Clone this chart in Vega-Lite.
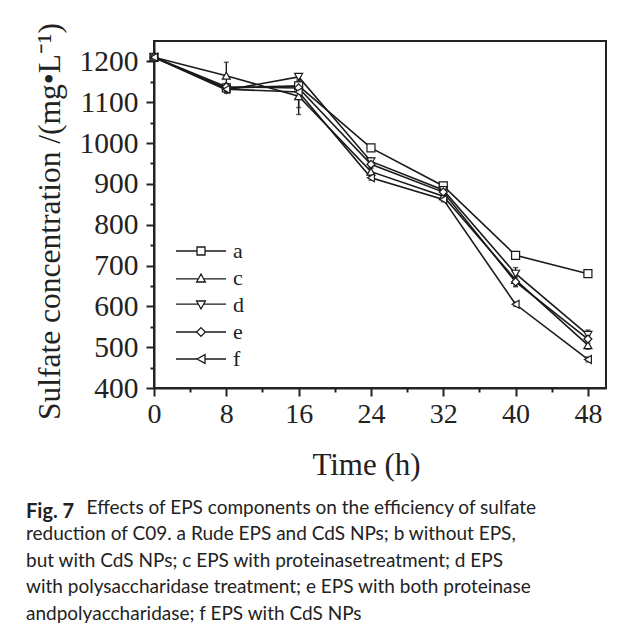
{
  "$schema": "https://vega.github.io/schema/vega-lite/v6.json",
  "width": 452,
  "height": 347,
  "autosize": {"type": "none"},
  "padding": {"left": 154, "top": 41, "right": 23, "bottom": 246},
  "background": "white",
  "title": {
    "text": "Fig. 7",
    "subtitle": [
      "\u2060\u2003\u2003\u2003\u2003\u2009\u200aEffects of EPS components on the efficiency of sulfate",
      "reduction of C09. a Rude EPS and CdS NPs; b without EPS,",
      "but with CdS NPs; c EPS with proteinasetreatment; d EPS",
      "with polysaccharidase treatment; e EPS with both proteinase",
      "andpolyaccharidase; f EPS with CdS NPs"
    ],
    "orient": "bottom",
    "anchor": "start",
    "frame": "group",
    "dx": -128,
    "offset": 22,
    "font": "Lato",
    "fontSize": 20,
    "fontWeight": "bold",
    "color": "#222",
    "subtitleFont": "Lato",
    "subtitleFontSize": 19,
    "subtitleColor": "#222",
    "subtitleLineHeight": 26.4,
    "subtitlePadding": -23
  },
  "datasets": {
    "sulfate": [
      {"series": "a", "t": 0, "v": 1210, "err": 5},
      {"series": "a", "t": 8, "v": 1135, "err": 8},
      {"series": "a", "t": 16, "v": 1140, "err": 10},
      {"series": "a", "t": 24, "v": 988, "err": 8},
      {"series": "a", "t": 32, "v": 895, "err": 8},
      {"series": "a", "t": 40, "v": 725, "err": 6},
      {"series": "a", "t": 48, "v": 680, "err": 6},
      {"series": "c", "t": 0, "v": 1210, "err": 5},
      {"series": "c", "t": 8, "v": 1165, "err": 33},
      {"series": "c", "t": 16, "v": 1115, "err": 45},
      {"series": "c", "t": 24, "v": 930, "err": 8},
      {"series": "c", "t": 32, "v": 870, "err": 8},
      {"series": "c", "t": 40, "v": 665, "err": 15},
      {"series": "c", "t": 48, "v": 505, "err": 10},
      {"series": "d", "t": 0, "v": 1210, "err": 5},
      {"series": "d", "t": 8, "v": 1130, "err": 8},
      {"series": "d", "t": 16, "v": 1162, "err": 8},
      {"series": "d", "t": 24, "v": 955, "err": 8},
      {"series": "d", "t": 32, "v": 885, "err": 10},
      {"series": "d", "t": 40, "v": 680, "err": 15},
      {"series": "d", "t": 48, "v": 530, "err": 12},
      {"series": "e", "t": 0, "v": 1210, "err": 5},
      {"series": "e", "t": 8, "v": 1138, "err": 8},
      {"series": "e", "t": 16, "v": 1135, "err": 10},
      {"series": "e", "t": 24, "v": 948, "err": 8},
      {"series": "e", "t": 32, "v": 880, "err": 8},
      {"series": "e", "t": 40, "v": 660, "err": 12},
      {"series": "e", "t": 48, "v": 520, "err": 10},
      {"series": "f", "t": 0, "v": 1210, "err": 5},
      {"series": "f", "t": 8, "v": 1132, "err": 8},
      {"series": "f", "t": 16, "v": 1125, "err": 38},
      {"series": "f", "t": 24, "v": 915, "err": 6},
      {"series": "f", "t": 32, "v": 862, "err": 6},
      {"series": "f", "t": 40, "v": 605, "err": 5},
      {"series": "f", "t": 48, "v": 470, "err": 6}
    ]
  },
  "data": {"name": "sulfate"},
  "layer": [
    {
      "mark": {"type": "line", "color": "#1a1a1a", "strokeWidth": 1.6},
      "encoding": {
        "x": {
          "field": "t", "type": "quantitative",
          "scale": {"domain": [0, 50], "nice": false},
          "axis": {
            "orient": "bottom",
            "values": [0, 8, 16, 24, 32, 40, 48],
            "tickSize": 8, "tickWidth": 2, "tickColor": "#222",
            "domainColor": "#222", "domainWidth": 2,
            "labelFont": "Liberation Serif", "labelFontSize": 28, "labelColor": "#222",
            "labelPadding": 4, "labelFlush": false, "labelOverlap": false,
            "grid": false,
            "title": "Time (h)",
            "titleFont": "Liberation Serif", "titleFontSize": 31,
            "titleFontWeight": "normal", "titleColor": "#222",
            "titlePadding": 22, "titleX": 212
          }
        },
        "y": {
          "field": "v", "type": "quantitative",
          "scale": {"domain": [400, 1250], "nice": false, "zero": false},
          "axis": {
            "orient": "left",
            "values": [400, 500, 600, 700, 800, 900, 1000, 1100, 1200],
            "format": "d",
            "tickSize": 8, "tickWidth": 2, "tickColor": "#222",
            "domainColor": "#222", "domainWidth": 2,
            "labelFont": "Liberation Serif", "labelFontSize": 29.5, "labelColor": "#222",
            "labelPadding": 8, "labelFlush": false, "labelOverlap": false,
            "grid": false,
            "title": "Sulfate concentration /(mg\u2022L\u207b\u00b9)",
            "titleFont": "Liberation Serif", "titleFontSize": 31.5,
            "titleFontWeight": "normal", "titleColor": "#222",
            "titlePadding": 13, "titleY": 180
          }
        },
        "detail": {"field": "series"}
      }
    },
    {
      "mark": {"type": "errorbar", "ticks": true, "color": "#1a1a1a", "thickness": 1.4},
      "encoding": {
        "x": {"field": "t", "type": "quantitative", "axis": null},
        "y": {"field": "v", "type": "quantitative", "axis": null},
        "yError": {"field": "err"}
      }
    },
    {
      "mark": {"type": "point", "filled": true, "fill": "white", "stroke": "#1a1a1a", "strokeWidth": 1.2, "size": 64, "opacity": 1},
      "encoding": {
        "x": {
          "field": "t", "type": "quantitative",
          "axis": {
            "orient": "bottom", "values": [4, 12, 20, 28, 36, 44],
            "tickSize": 4, "tickWidth": 2, "tickColor": "#222",
            "labels": false, "domain": false, "grid": false, "title": null
          }
        },
        "y": {
          "field": "v", "type": "quantitative",
          "axis": {
            "orient": "left", "values": [450, 550, 650, 750, 850, 950, 1050, 1150],
            "tickSize": 4, "tickWidth": 2, "tickColor": "#222",
            "labels": false, "domain": false, "grid": false, "title": null
          }
        },
        "shape": {
          "field": "series", "type": "nominal",
          "scale": {
            "domain": ["a", "c", "d", "e", "f"],
            "range": ["square", "triangle-up", "triangle-down", "diamond", "triangle-left"]
          },
          "legend": null
        }
      }
    },
    {
      "mark": {"type": "point", "filled": false, "color": "#1a1a1a", "strokeWidth": 1.3, "opacity": 0, "size": 64},
      "encoding": {
        "x": {"field": "t", "type": "quantitative", "axis": null},
        "y": {"field": "v", "type": "quantitative", "axis": null},
        "shape": {
          "field": "series", "type": "nominal",
          "scale": {
            "domain": ["a", "c", "d", "e", "f"],
            "range": [
              "M-1.75,0H3.5M5.5,0H10.75M3.5,-1H5.5V1H3.5Z",
              "M-1.75,0.2H3.9M5.1,0.2H10.75M4.5,-1L5.6,1H3.4Z",
              "M-1.75,-0.2H3.9M5.1,-0.2H10.75M4.5,1L5.6,-1H3.4Z",
              "M-1.75,0H3.4M5.6,0H10.75M4.5,-1.1L5.6,0L4.5,1.1L3.4,0Z",
              "M-1.75,0H3.5M5.5,0H10.75M3.5,0L5.5,-1.1V1.1Z"
            ]
          },
          "legend": {
            "title": null,
            "orient": "bottom-left",
            "offset": 18,
            "padding": 0,
            "labelFont": "Liberation Serif", "labelFontSize": 22, "labelColor": "#222",
            "labelOffset": 39,
            "rowPadding": 5,
            "symbolSize": 64,
            "symbolStrokeWidth": 1.3
          }
        }
      }
    }
  ],
  "resolve": {
    "axis": {"x": "independent", "y": "independent"},
    "scale": {"shape": "independent"},
    "legend": {"shape": "independent"}
  },
  "config": {
    "view": {"stroke": "#222", "strokeWidth": 2},
    "axis": {"grid": false}
  }
}
